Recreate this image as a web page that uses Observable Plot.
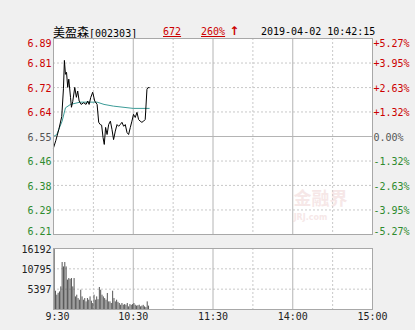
<!DOCTYPE html>
<html><head><meta charset="utf-8">
<script src="https://cdn.jsdelivr.net/npm/d3@7"></script>
<script src="https://cdn.jsdelivr.net/npm/@observablehq/plot@0.6"></script>
<style>
body{margin:0;background:#f0f0f0;width:415px;height:330px;overflow:hidden;position:relative;font-family:"DejaVu Sans Mono",monospace;font-size:10px;}
.h{position:absolute;top:25px;line-height:13px;white-space:pre;}
.red{color:#cc0000;}
.u{text-decoration:underline;}
#main,#vol{position:absolute;left:0;}
#main{top:0}
#vol{top:240px}
</style></head><body>
<div class="h" style="left:53px"><span style="font-family:'Noto Sans CJK SC';font-size:12px">美盈森</span>[002303]</div>
<div class="h red" style="left:163px"><span class="u">672</span></div>
<div class="h red" style="left:201px"><span class="u">260%</span><span style="font-family:'DejaVu Sans';font-size:12px;font-weight:bold"> ↑</span></div>
<div class="h" style="left:261px">2019-04-02 10:42:15</div>
<div id="main"></div>
<div id="vol"></div>
<script>
// ---- data ----
const prevClose = 6.55;
const tickPcts = [5.27, 3.95, 2.63, 1.32, 0, -1.32, -2.63, -3.95, -5.27];
const priceLabels = ["6.89","6.81","6.72","6.64","6.55","6.46","6.38","6.29","6.21"];
const pctLabels = ["+5.27%","+3.95%","+2.63%","+1.32%","0.00%","-1.32%","-2.63%","-3.95%","-5.27%"];
const timeMinutes = [0, 60, 120, 180, 240];
const timeLabels = ["9:30","10:30","11:30","14:00","15:00"];
const solidMinutes = [60, 120, 180];
const dashedMinutes = [30, 90, 150, 210];

const priceMinutes = [0,1.7,4,6.2,7.5,8.2,9,9.8,10.7,11.5,12.8,13.5,14.5,16,17.2,18.2,19.3,20.8,22.7,24.5,25.7,26.8,28,29.5,31,32.8,34,35.2,36.2,37.3,38.2,39.2,40.3,41.5,42.8,44,45.2,46.5,47.8,49,50.2,51.5,52.8,54,55.3,56.5,57.8,59,60.2,61.5,62.8,64,65.2,66.5,67.8,69,70.3,71,72];
const prices = [6.51,6.535,6.575,6.62,6.72,6.818,6.769,6.776,6.723,6.752,6.688,6.653,6.674,6.723,6.688,6.71,6.675,6.663,6.669,6.663,6.675,6.663,6.687,6.706,6.675,6.663,6.6,6.592,6.59,6.546,6.522,6.582,6.557,6.592,6.604,6.575,6.539,6.569,6.592,6.586,6.592,6.6,6.586,6.592,6.564,6.557,6.582,6.604,6.628,6.617,6.635,6.61,6.604,6.6,6.604,6.61,6.716,6.722,6.722];

const avgMinutes = [0,2.5,4.5,6.5,9,12.8,20,32.8,38,45,60,72];
const avgPrices = [6.55,6.557,6.581,6.604,6.651,6.663,6.671,6.671,6.663,6.657,6.649,6.649];

const volumes = [16192,4850,3800,4300,4670,6000,12470,11300,12470,11300,7800,8220,8000,8220,6000,8220,3340,3800,2900,2470,5120,3340,2470,2900,2020,2920,2470,3340,2200,1590,3800,2470,3340,2600,5840,5120,3800,3340,2900,2470,4250,2020,2020,1600,4850,2920,2020,2470,1900,1590,1140,1590,1140,1300,1140,1590,700,1300,1100,1300,1590,1140,900,1000,1140,700,900,1100,700,500,2020,900];
const volTicks = [16192, 10795, 5397];

// ---- derived tables ----
const RED = "#cc0000", GRAY = "#555555", GREEN = "#2e8b2e";
const ticks = tickPcts.map((p, i) => ({
  y: prevClose * (1 + p / 100), price: priceLabels[i], pct: pctLabels[i],
  color: p > 0 ? RED : p < 0 ? GREEN : GRAY
}));
const priceData = priceMinutes.map((m, i) => ({m, v: prices[i]}));
const avgData = avgMinutes.map((m, i) => ({m, v: avgPrices[i]}));
const volData = volumes.map((v, i) => ({m: i + 0.5, v}));
const timeData = timeMinutes.map((m, i) => ({m, t: timeLabels[i]}));

const font = {fontFamily: "DejaVu Sans Mono", fontSize: 10};
const GRID = "#c8c8c8", SOLID = "#b4b4b4", BORDER = "#a8a8a8";

const yDomain = [prevClose * (1 - 0.0527), prevClose * (1 + 0.0527)];

const labelMarks = (sel, anchor, dy) => [
  Plot.text(ticks.filter(sel), {frameAnchor: "left", y: "y", text: "price", fill: "color", textAnchor: "end", dx: -2, dy, lineAnchor: anchor, ...font}),
  Plot.text(ticks.filter(sel), {frameAnchor: "right", y: "y", text: "pct", fill: "color", textAnchor: "start", dx: 1, dy, lineAnchor: anchor, ...font})
];

const main = Plot.plot({
  width: 415, height: 240,
  marginTop: 38, marginBottom: 6, marginLeft: 53, marginRight: 43,
  x: {domain: [0, 240], axis: null},
  y: {domain: yDomain, axis: null},
  color: {type: "identity"},
  style: {background: "transparent", overflow: "visible"},
  marks: [
    Plot.frame({fill: "white", stroke: null}),
    Plot.ruleY(ticks.filter(t => t.pct !== "0.00%"), {y: "y", stroke: GRID, strokeDasharray: "2,2"}),
    Plot.ruleY(ticks.filter(t => t.pct === "0.00%"), {y: "y", stroke: SOLID}),
    Plot.ruleX(dashedMinutes, {x: d => d, stroke: GRID, strokeDasharray: "2,2"}),
    Plot.ruleX(solidMinutes, {x: d => d, stroke: SOLID}),
    Plot.text(["金融界"], {frameAnchor: "bottom-right", textAnchor: "middle", dx: -52, dy: -30, fill: "#eccccc", fontSize: 18, fontWeight: "bold", fontFamily: "Noto Sans CJK SC", opacity: 0.45}),
    Plot.text(["JRJ.com"], {frameAnchor: "bottom-right", textAnchor: "middle", dx: -62, dy: -15, fill: "#eccccc", fontSize: 8, fontWeight: "bold", fontFamily: "DejaVu Sans", opacity: 0.45}),
    Plot.line(avgData, {x: "m", y: "v", stroke: "#3c9c98", strokeWidth: 1}),
    Plot.line(priceData, {x: "m", y: "v", stroke: "#000", strokeWidth: 1}),
    Plot.frame({stroke: BORDER}),
    ...labelMarks((d, i) => i === 0, "top", 1),
    ...labelMarks((d, i) => i > 0 && i < 8, "middle", 1),
    ...labelMarks((d, i) => i === 8, "middle", -3)
  ]
});
document.getElementById("main").appendChild(main);

const vol = Plot.plot({
  width: 415, height: 90,
  marginTop: 8, marginBottom: 21, marginLeft: 53, marginRight: 43,
  x: {domain: [0, 240], axis: null},
  y: {domain: [0, volTicks[0]], axis: null},
  style: {background: "transparent", overflow: "visible"},
  marks: [
    Plot.frame({fill: "white", stroke: null}),
    Plot.ruleY(volTicks.slice(1), {y: d => d, stroke: GRID, strokeDasharray: "2,2"}),
    Plot.ruleX(dashedMinutes, {x: d => d, stroke: GRID, strokeDasharray: "2,2"}),
    Plot.ruleX(solidMinutes, {x: d => d, stroke: SOLID}),
    Plot.ruleX(volData, {x: "m", y: "v", stroke: "#555", strokeWidth: 1}),
    Plot.frame({stroke: BORDER}),
    Plot.text(volTicks, {frameAnchor: "left", y: d => d, text: d => String(d), textAnchor: "end", dx: -2, dy: 1, fill: "#222", ...font}),
    Plot.text(timeData.slice(0, 1), {x: "m", frameAnchor: "bottom", text: "t", dy: 10, dx: 4, fill: "#222", ...font}),
    Plot.text(timeData.slice(1), {x: "m", frameAnchor: "bottom", text: "t", dy: 10, fill: "#222", ...font})
  ]
});
document.getElementById("vol").appendChild(vol);
</script>
</body></html>
